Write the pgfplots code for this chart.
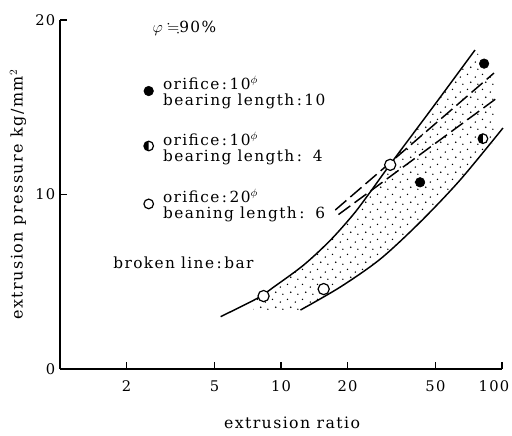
\documentclass[border=0pt]{standalone}
\usepackage{amssymb}
\usepackage{fontspec}
\setmainfont{DejaVu Serif}[LetterSpace=9]
\usepackage{pgfplots}
\pgfplotsset{compat=1.18}
\usetikzlibrary{patterns}
\pgfdeclarepatternformonly{stipple}{\pgfqpoint{0pt}{0pt}}{\pgfqpoint{11pt}{11pt}}{\pgfqpoint{11pt}{11pt}}{%
  \pgfpathcircle{\pgfqpoint{1pt}{1.5pt}}{0.6pt}%
  \pgfpathcircle{\pgfqpoint{6.5pt}{3.5pt}}{0.6pt}%
  \pgfpathcircle{\pgfqpoint{3pt}{7.5pt}}{0.6pt}%
  \pgfpathcircle{\pgfqpoint{9pt}{9pt}}{0.6pt}%
  \pgfusepath{fill}}
\pgfdeclareplotmark{halfo}{%
  \pgfpathcircle{\pgfpointorigin}{\pgfplotmarksize}%
  \pgfsetfillcolor{white}\pgfusepath{fill}%
  \pgfpathmoveto{\pgfqpoint{0pt}{\pgfplotmarksize}}%
  \pgfpatharc{90}{270}{\pgfplotmarksize}%
  \pgfpathclose
  \pgfsetfillcolor{black}\pgfusepath{fill}%
  \pgfpathcircle{\pgfpointorigin}{\pgfplotmarksize}%
  \pgfusepath{stroke}}
\tikzset{lg/.style={anchor=west, inner sep=0pt, font=\fontsize{11.5}{13}\selectfont}}
\begin{document}
\begin{tikzpicture}
\useasboundingbox (-45pt,-50.25pt) rectangle (339pt,276.75pt);
\begin{axis}[
  at={(0,0)}, anchor=south west,
  scale only axis, width=331.5pt, height=261.75pt,
  xmode=log, xmin=1, xmax=100, ymin=0, ymax=20,
  axis lines=left, axis line style={-, line width=0.9pt},
  xtick={2,5,10,20,50,100}, xticklabels={2,5,10,20,50,{\kern-12pt 100}},
  ytick={0,10,20}, xminorticks=false, yminorticks=false,
  tick align=inside, major tick length=5pt,
  tick style={black, line width=0.8pt},
  /pgf/number format/assume math mode=true,
  every tick label/.append style={font=\fontsize{11}{13}\selectfont},
  xticklabel style={yshift=-5pt},
  xlabel={extrusion ratio}, ylabel={extrusion pressure kg/mm$^2$},
  xlabel style={at={(axis description cs:0.525,-0.155)}, anchor=center, font=\fontsize{11.8}{13}\selectfont},
  ylabel style={at={(axis description cs:-0.095,0.5)}, anchor=center, font=\fontsize{12}{14}\selectfont},
  clip=false,
]
% stippled band
\addplot[pattern=stipple, draw=none] coordinates {
  (7.5,3.95) (7.81,4.05) (9.28,4.70) (12.67,5.96) (16.73,7.38) (21.32,8.88)
  (25.36,10.15) (31.22,11.73) (48.96,15.05) (75.5,18.28) (85,17.4) (93,16.2)
  (93,13.1) (64.63,10.83) (42.65,8.42) (28.13,6.30) (18.56,4.70)
  (12.25,3.38) (7.5,3.3)} -- cycle;
% solid envelope curves
\addplot[smooth, line width=1.1pt] coordinates {
  (5.33,3.0) (7.81,4.05) (9.28,4.70) (12.67,5.96) (16.73,7.38) (21.32,8.88)
  (25.36,10.15) (31.22,11.73) (48.96,15.05) (75.5,18.28)};
\addplot[smooth, line width=1.1pt] coordinates {
  (12.25,3.38) (18.56,4.70) (28.13,6.30) (42.65,8.42) (64.63,10.83) (101,13.81)};
% broken lines (bar)
\addplot[line width=1.1pt, dash pattern=on 11pt off 4pt] coordinates {(17.6,9.11) (92,16.96)};
\addplot[line width=1.1pt, dash pattern=on 11pt off 4pt] coordinates {(18.2,8.85) (94.9,15.53)};
% data points
\addplot[only marks, mark=*, mark size=3.6pt, black] coordinates {(42.6,10.7) (83,17.5)};
\addplot[only marks, mark=halfo, mark size=3.6pt, line width=0.9pt, black] coordinates {(82,13.2)};
\addplot[only marks, mark=*, mark size=4.2pt, line width=0.9pt, black, mark options={fill=white}] coordinates {(8.34,4.18) (15.6,4.58) (31.2,11.7)};
% legend symbols
\addplot[only marks, mark=*, mark size=3.6pt, black] coordinates {(2.52,15.93)};
\addplot[only marks, mark=halfo, mark size=3.6pt, line width=0.9pt, black] coordinates {(2.52,12.78)};
\addplot[only marks, mark=*, mark size=3.6pt, line width=0.9pt, black, mark options={fill=white}] coordinates {(2.52,9.46)};
% legend texts
\node[lg] at (axis cs:2.62,19.54) {$\varphi\fallingdotseq$90\%};
\node[lg] at (axis cs:2.92,16.38) {orifice\,:\,10$^{\phi}$};
\node[lg] at (axis cs:2.92,15.32) {bearing length\,:\,10};
\node[lg] at (axis cs:2.92,13.17) {orifice\,:\,10$^{\phi}$};
\node[lg] at (axis cs:2.92,12.11) {bearing length\,:\, 4};
\node[lg] at (axis cs:2.92,9.91) {orifice\,:\,20$^{\phi}$};
\node[lg] at (axis cs:2.92,8.85) {beaning length\,:\, 6};
\node[lg] at (axis cs:1.74,6.07) {broken line\,:\,bar};
\end{axis}
\end{tikzpicture}
\end{document}
